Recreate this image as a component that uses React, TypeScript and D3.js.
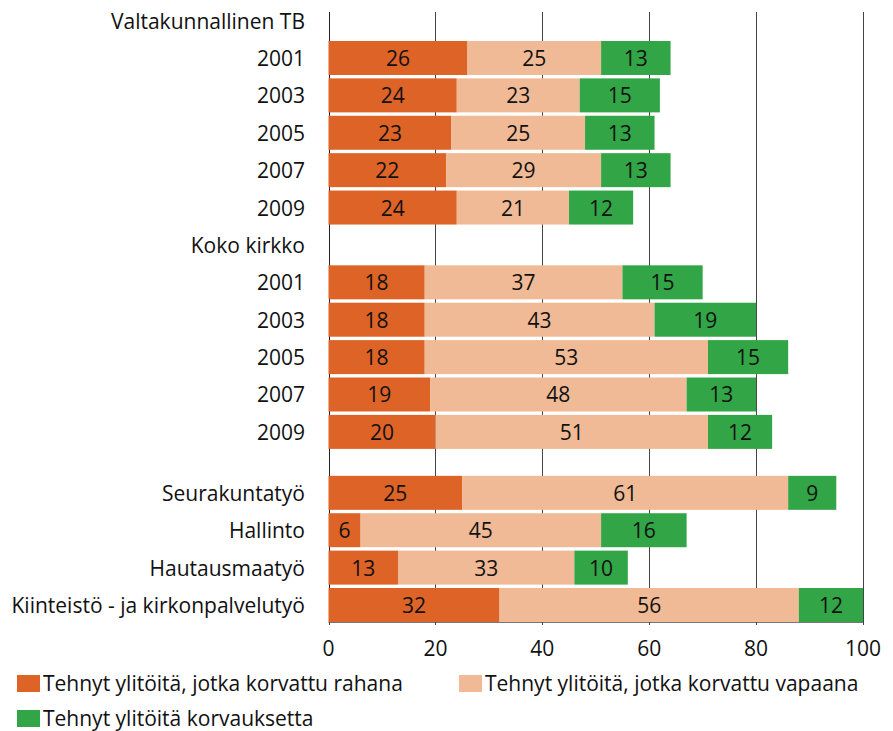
import React from "react";
import * as d3 from "d3";

// rows of the chart, "" is the blank spacer row
const categories = [
  "Valtakunnallinen TB",
  "2001",
  "2003",
  "2005",
  "2007",
  "2009",
  "Koko kirkko",
  "2001",
  "2003",
  "2005",
  "2007",
  "2009",
  "",
  "Seurakuntatyö",
  "Hallinto",
  "Hautausmaatyö",
  "Kiinteistö - ja kirkonpalvelutyö",
];

const rahana = [null, 26, 24, 23, 22, 24, null, 18, 18, 18, 19, 20, null, 25, 6, 13, 32];
const vapaana = [null, 25, 23, 25, 29, 21, null, 37, 43, 53, 48, 51, null, 61, 45, 33, 56];
const korvauksetta = [null, 13, 15, 13, 13, 12, null, 15, 19, 15, 13, 12, null, 9, 16, 10, 12];

const seriesNames = [
  "Tehnyt ylitöitä, jotka korvattu rahana",
  "Tehnyt ylitöitä, jotka korvattu vapaana",
  "Tehnyt ylitöitä korvauksetta",
];
const seriesColors = ["#DD6327", "#F0BA96", "#32A547"];

const xTicks = [0, 20, 40, 60, 80, 100];

const W = 893;
const H = 731;
const FONT = "'Open Sans', 'Noto Sans', sans-serif";
const FS = 21;

export default function App() {
  // spacer row is shorter than the rest
  const weights = categories.map((c) => (c === "" ? 0.63 : 1));
  const starts = weights.map((_, i) => d3.sum(weights.slice(0, i)));
  const total = d3.sum(weights);

  const x = d3.scaleLinear().domain([0, 100]).range([328.5, 863]);
  const y = d3.scaleLinear().domain([0, total]).range([1.9, 623.7]);
  const pitch = y(1) - y(0);
  const barH = pitch - 3.4;
  const rowTop = (i) => y(starts[i]) + 1.7;
  const textY = (i) => rowTop(i) + barH / 2 + 8;

  const gridTop = 12;
  const gridBottom = 622;

  const series = [rahana, vapaana, korvauksetta];

  return (
    <svg
      width={W}
      height={H}
      style={{ position: "absolute", left: 0, top: 0 }}
      fontFamily={FONT}
    >
      <rect width={W} height={H} fill="#fff" />
      {/* gridlines */}
      {xTicks.map((t) => (
        <line
          key={"g" + t}
          x1={Math.round(x(t)) + 0.5}
          x2={Math.round(x(t)) + 0.5}
          y1={gridTop}
          y2={gridBottom}
          stroke={t === 0 ? "#222" : "#444"}
          strokeWidth={1}
        />
      ))}
      {/* bottom axis */}
      <line x1={x(0)} x2={x(100)} y1={gridBottom + 0.5} y2={gridBottom + 0.5} stroke="#777" />
      {xTicks.map((t) => (
        <line
          key={"t" + t}
          x1={Math.round(x(t)) + 0.5}
          x2={Math.round(x(t)) + 0.5}
          y1={gridBottom}
          y2={gridBottom + 3}
          stroke="#444"
        />
      ))}
      {xTicks.map((t) => (
        <text
          key={"l" + t}
          x={x(t)}
          y={656}
          textAnchor="middle"
          fontSize={FS}
          fill="#111"
        >
          {t}
        </text>
      ))}

      {/* bars */}
      {categories.map((cat, i) => {
        if (rahana[i] == null) return null;
        let acc = 0;
        return (
          <g key={"b" + i}>
            {series.map((s, k) => {
              const v = s[i];
              const x0 = x(acc);
              acc += v;
              const x1 = x(acc);
              return (
                <g key={k}>
                  <rect
                    x={x0}
                    y={rowTop(i)}
                    width={x1 - x0}
                    height={barH}
                    fill={seriesColors[k]}
                  />
                  <text
                    x={(x0 + x1) / 2}
                    y={textY(i)}
                    textAnchor="middle"
                    fontSize={FS}
                    fill="#111"
                  >
                    {v}
                  </text>
                </g>
              );
            })}
          </g>
        );
      })}

      {/* category labels */}
      {categories.map((cat, i) => (
        <text
          key={"c" + i}
          x={305}
          y={textY(i)}
          textAnchor="end"
          fontSize={FS}
          fill="#111"
        >
          {cat}
        </text>
      ))}

      {/* legend */}
      {seriesNames.map((name, k) => {
        const lx = k === 1 ? 459 : 17;
        const ly = k === 2 ? 710 : 675;
        return (
          <g key={"lg" + k}>
            <rect x={lx} y={ly} width={23} height={17} fill={seriesColors[k]} />
            <text x={lx + 26} y={ly + 16} fontSize={FS} fill="#111">
              {name}
            </text>
          </g>
        );
      })}
    </svg>
  );
}
